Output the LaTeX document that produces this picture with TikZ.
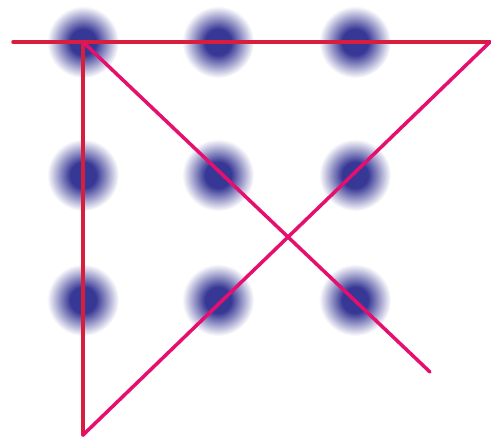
\documentclass[tikz,border=0pt]{standalone}
\definecolor{dotblue}{RGB}{55,55,150}
\definecolor{linered}{RGB}{215,30,60}
\definecolor{linepink}{RGB}{230,15,110}
\pgfdeclareradialshading{blurdot}{\pgfpoint{0bp}{0bp}}{color(0bp)=(dotblue); color(9bp)=(dotblue); color(25bp)=(white); color(50bp)=(white)}
\begin{document}
\begin{tikzpicture}[x=0.02cm, y=-0.02cm,
  seg/.style={line width=0.07cm, line cap=round}]
  \useasboundingbox (0,0) rectangle (491,441);
  % the nine dots
  \foreach \x in {83,218,355}
    \foreach \y in {42,175,300}
      \shade[shading=blurdot] (\x,\y) circle[radius=0.72cm];
  % end points of the four strokes
  \coordinate (start) at (13,42);
  \coordinate (tl) at (83,42);
  \coordinate (tr) at (490,42);
  \coordinate (bl) at (83,435);
  \coordinate (stop) at (430,372);
  \draw[seg, linered] (start) -- (tr);
  \draw[seg, linered] (tl) -- (bl);
  \draw[seg, linepink] (bl) -- (tr);
  \draw[seg, linepink] (tl) -- (stop);
\end{tikzpicture}
\end{document}
